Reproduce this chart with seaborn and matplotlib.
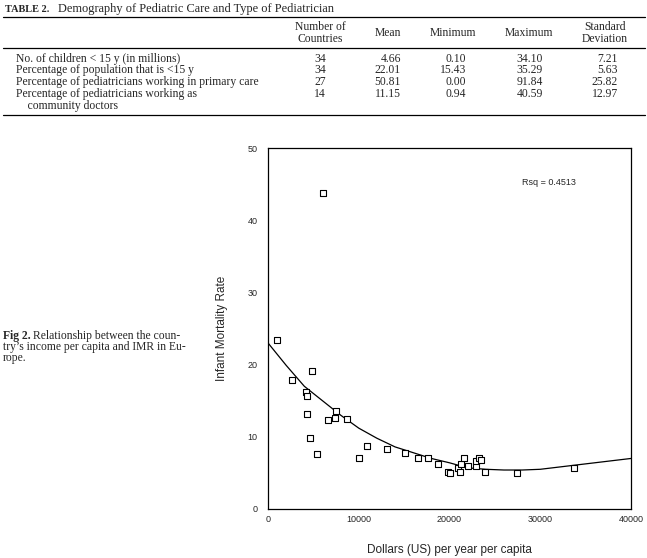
import numpy as np
import pandas as pd
import seaborn as sns
import matplotlib.pyplot as plt

# Table 2 contents
table_title = "Demography of Pediatric Care and Type of Pediatrician"
col_headers = ["Number of\nCountries", "Mean", "Minimum", "Maximum", "Standard\nDeviation"]
row_labels = [
    "No. of children < 15 y (in millions)",
    "Percentage of population that is <15 y",
    "Percentage of pediatricians working in primary care",
    "Percentage of pediatricians working as\n    community doctors",
]
n_countries = ["34", "34", "27", "14"]
means = ["4.66", "22.01", "50.81", "11.15"]
minimums = ["0.10", "15.43", "0.00", "0.94"]
maximums = ["34.10", "35.29", "91.84", "40.59"]
std_devs = ["7.21", "5.63", "25.82", "12.97"]

# Fig 2 scatter: income per capita vs infant mortality rate
income = [1030, 4820, 2610, 4190, 4330, 4330, 4600, 5370, 7500, 7350, 6580, 8680,
          10070, 10880, 13120, 15100, 16570, 17600, 18710, 19810, 20100, 20910,
          21130, 21310, 21570, 22090, 22890, 22890, 23260, 23520, 23960, 27450,
          33770, 6100]
imr = [23.4, 19.1, 17.8, 16.2, 15.6, 13.1, 9.8, 7.6, 13.6, 12.6, 12.3, 12.5,
       7.0, 8.7, 8.3, 7.8, 7.0, 7.1, 6.2, 5.1, 5.0, 5.7,
       5.1, 6.2, 7.0, 6.0, 6.0, 6.7, 7.1, 6.8, 5.1, 5.0,
       5.7, 43.8]

# fitted curve as drawn in the figure
fit_x = [0, 2000, 4000, 6000, 8000, 10000, 12000, 14000, 16000, 18000, 20000,
         22000, 24000, 26000, 28000, 30000, 32000, 34000, 36000, 38000, 40000]
fit_y = [23.0, 19.9, 17.0, 15.0, 13.0, 11.2, 9.8, 8.6, 7.8, 7.0, 6.4,
         5.7, 5.5, 5.4, 5.4, 5.5, 5.8, 6.1, 6.4, 6.7, 7.0]

sns.set_theme(style="white")
plt.rcParams["font.family"] = ["Liberation Sans", "DejaVu Sans"]

W, H = 647, 558
fig = plt.figure(figsize=(W / 100, H / 100), dpi=100)

serif = ["Liberation Serif", "DejaVu Serif"]
tfs = 8.4


def fy(py):
    return 1 - py / H


def fx(px):
    return px / W


# table header
fig.text(fx(5), fy(9), "TABLE 2.", family=serif, fontsize=7.4, weight="bold", va="center")
fig.text(fx(58), fy(9), table_title, family=serif, fontsize=8.9, va="center")
for ly in [17, 48, 115]:
    fig.add_artist(plt.Line2D([fx(3), fx(645)], [fy(ly), fy(ly)], color="black", lw=0.9))

head_x = [320, 388, 453, 529, 605]
for hx, h in zip(head_x, col_headers):
    fig.text(fx(hx), fy(33), h, family=serif, fontsize=tfs, ha="center", va="center",
             linespacing=1.1)

row_y = [59, 70, 82, 94]
col_right = [326, 401, 466, 543, 618]
cols = [n_countries, means, minimums, maximums, std_devs]
for i, lab in enumerate(row_labels):
    for j, ln in enumerate(lab.split("\n")):
        fig.text(fx(16), fy(row_y[i] + 11.5 * j), ln, family=serif, fontsize=tfs, va="center")
    for cx, col in zip(col_right, cols):
        fig.text(fx(cx), fy(row_y[i]), col[i], family=serif, fontsize=tfs, ha="right", va="center")

# figure caption on the left
cap = ["Relationship between the coun-",
       "try\u2019s income per capita and IMR in Eu-",
       "rope."]
fig.text(fx(3), fy(336), "Fig 2.", family=serif, fontsize=tfs, weight="bold", va="center")
fig.text(fx(33), fy(336), cap[0], family=serif, fontsize=tfs, va="center")
fig.text(fx(3), fy(347), cap[1], family=serif, fontsize=tfs, va="center")
fig.text(fx(3), fy(358), cap[2], family=serif, fontsize=tfs, va="center")

# scatter plot
ax = fig.add_axes([fx(268), fy(509), fx(631) - fx(268), fy(148) - fy(509)])
df = pd.DataFrame({"income": income, "imr": imr})
fit = pd.DataFrame({"x": fit_x, "y": fit_y})
sns.lineplot(data=fit, x="x", y="y", ax=ax, color="black", lw=0.9)
sns.scatterplot(data=df, x="income", y="imr", ax=ax, marker="s", s=18,
                facecolor="white", edgecolor="black", linewidth=0.8, zorder=3)

ax.set_xlim(0, 40000)
ax.set_ylim(0, 50)
ax.set_xticks([0, 10000, 20000, 30000, 40000])
ax.set_yticks([0, 10, 20, 30, 40, 50])
ax.tick_params(axis="both", direction="inout", length=3, width=2.5, color="black",
               labelsize=6.5, pad=3)
ax.tick_params(axis="y", pad=6)
for s in ax.spines.values():
    s.set_color("black")
    s.set_linewidth(0.9)
ax.set_xlabel("Dollars (US) per year per capita", fontsize=8.5, labelpad=14)
ax.set_ylabel("Infant Mortality Rate", fontsize=8.5, labelpad=14)
ax.text(0.7, 0.905, "Rsq = 0.4513", transform=ax.transAxes, fontsize=6.5, va="center")

plt.savefig("out.png", dpi=100)
